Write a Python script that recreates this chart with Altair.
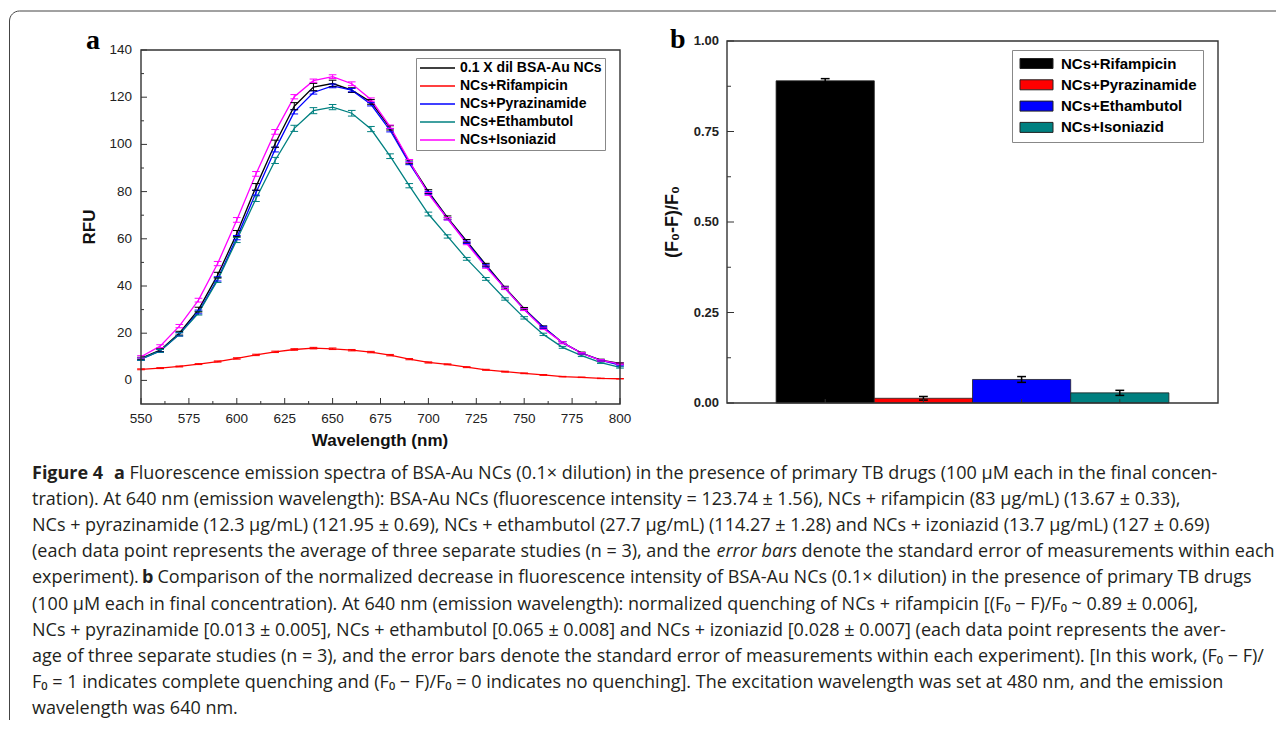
import altair as alt
import pandas as pd

# ---------------- panel a data ----------------
wavelength = [550, 560, 570, 580, 590, 600, 610, 620, 630, 640, 650, 660, 670,
              680, 690, 700, 710, 720, 730, 740, 750, 760, 770, 780, 790, 800]
series_a = ["0.1 X dil BSA-Au NCs", "NCs+Rifampicin", "NCs+Pyrazinamide",
            "NCs+Ethambutol", "NCs+Isoniazid"]
colors_a = ["#000000", "#ff0000", "#0000ff", "#008080", "#ff00ff"]

rfu_bsa = [9.3, 12.8, 20.0, 30.0, 44.6, 62.2, 82.0, 100.3, 116.2, 124.3, 125.8, 123.0,
           118.0, 107.0, 92.6, 80.0, 69.0, 59.0, 49.0, 39.3, 30.4, 22.6, 16.0, 11.6, 8.6, 7.2]
rfu_rif = [4.7, 5.2, 5.9, 6.9, 8.0, 9.3, 10.8, 12.1, 13.1, 13.67, 13.4, 12.8, 12.0,
           10.7, 9.0, 7.6, 6.8, 5.6, 4.5, 3.7, 3.0, 2.3, 1.6, 1.3, 0.85, 0.7]
rfu_pyr = [9.0, 12.5, 19.5, 29.0, 43.0, 60.5, 79.5, 97.8, 113.8, 122.0, 124.8, 123.0,
           117.0, 106.0, 92.0, 79.5, 68.5, 58.5, 48.5, 39.0, 30.0, 22.5, 16.0, 11.5, 8.5, 6.5]
rfu_eth = [9.0, 12.5, 19.5, 28.5, 42.5, 59.5, 77.0, 93.2, 106.8, 114.3, 115.8, 113.2,
           106.5, 95.0, 82.5, 70.5, 61.0, 51.5, 43.0, 34.5, 26.5, 19.5, 14.0, 10.5, 7.5, 5.5]
rfu_iso = [10.0, 14.5, 23.0, 34.0, 49.5, 68.0, 87.5, 105.3, 120.2, 127.0, 128.7, 125.7,
           119.0, 107.5, 93.0, 79.0, 68.5, 58.0, 48.0, 39.0, 30.0, 22.0, 16.0, 11.5, 8.5, 7.0]

err_bsa = [0.5, 0.6, 0.8, 1.0, 1.2, 1.3, 1.4, 1.5, 1.5, 1.56, 1.4, 1.0, 1.0, 0.9, 0.8, 0.8,
           0.7, 0.7, 0.6, 0.6, 0.5, 0.5, 0.4, 0.4, 0.4, 0.3]
err_rif = [0.2, 0.2, 0.2, 0.2, 0.25, 0.3, 0.3, 0.3, 0.33, 0.33, 0.33, 0.3, 0.3, 0.3, 0.25,
           0.25, 0.2, 0.2, 0.2, 0.2, 0.15, 0.15, 0.1, 0.1, 0.1, 0.1]
err_pyr = [0.5, 0.6, 0.7, 0.8, 0.9, 0.9, 1.0, 1.0, 0.9, 0.69, 0.8, 0.7, 0.7, 0.7, 0.6, 0.6,
           0.5, 0.5, 0.5, 0.5, 0.4, 0.4, 0.4, 0.3, 0.3, 0.3]
err_eth = [0.5, 0.6, 0.7, 0.8, 1.0, 1.1, 1.2, 1.3, 1.3, 1.28, 1.1, 1.2, 1.1, 1.0, 0.9, 0.8,
           0.7, 0.6, 0.6, 0.5, 0.5, 0.5, 0.4, 0.4, 0.3, 0.3]
err_iso = [0.5, 0.6, 0.7, 0.8, 0.9, 1.0, 1.0, 1.0, 0.9, 0.69, 0.8, 0.8, 0.7, 0.7, 0.6, 0.6,
           0.5, 0.5, 0.5, 0.5, 0.4, 0.4, 0.4, 0.3, 0.3, 0.3]

xa_major = [550, 575, 600, 625, 650, 675, 700, 725, 750, 775, 800]
xa_minor = [562.5, 587.5, 612.5, 637.5, 662.5, 687.5, 712.5, 737.5, 762.5, 787.5]
ya_domain = [-10, 140]
ya_major = [0, 20, 40, 60, 80, 100, 120, 140]
ya_minor = [10, 30, 50, 70, 90, 110, 130]
title_xa = "Wavelength (nm)"
title_ya = "RFU"

# ---------------- panel b data ----------------
drugs_b = ["NCs+Rifampicin", "NCs+Pyrazinamide", "NCs+Ethambutol", "NCs+Isoniazid"]
colors_b = ["#000000", "#ff0000", "#0000ff", "#008080"]
quench_b = [0.89, 0.013, 0.065, 0.028]
quench_err_b = [0.006, 0.005, 0.008, 0.007]
bar_pos_b = [1, 2, 3, 4]
xb_domain = [0, 5]
yb_major = [0, 0.25, 0.5, 0.75, 1.0]
yb_minor = [0.125, 0.375, 0.625, 0.875]
title_yb = "(F\u2080-F)/F\u2080"

# ---------------- caption ----------------
caption_lines = [
    [("Figure 4", "bold", "normal"), ("a", "bold", "normal"),
     ("Fluorescence emission spectra of BSA-Au NCs (0.1\u00d7 dilution) in the presence of primary TB drugs (100 \u00b5M each in the final concen-", "normal", "normal")],
    [("tration). At 640 nm (emission wavelength): BSA-Au NCs (fluorescence intensity = 123.74 \u00b1 1.56), NCs + rifampicin (83 \u00b5g/mL) (13.67 \u00b1 0.33),", "normal", "normal")],
    [("NCs + pyrazinamide (12.3 \u00b5g/mL) (121.95 \u00b1 0.69), NCs + ethambutol (27.7 \u00b5g/mL) (114.27 \u00b1 1.28) and NCs + izoniazid (13.7 \u00b5g/mL) (127 \u00b1 0.69)", "normal", "normal")],
    [("(each data point represents the average of three separate studies (n = 3), and the", "normal", "normal"),
     ("error bars", "normal", "italic"),
     ("denote the standard error of measurements within each", "normal", "normal")],
    [("experiment).", "normal", "normal"), ("b", "bold", "normal"),
     ("Comparison of the normalized decrease in fluorescence intensity of BSA-Au NCs (0.1\u00d7 dilution) in the presence of primary TB drugs", "normal", "normal")],
    [("(100 \u00b5M each in final concentration). At 640 nm (emission wavelength): normalized quenching of NCs + rifampicin [(F\u2080 \u2212 F)/F\u2080 ~ 0.89 \u00b1 0.006],", "normal", "normal")],
    [("NCs + pyrazinamide [0.013 \u00b1 0.005], NCs + ethambutol [0.065 \u00b1 0.008] and NCs + izoniazid [0.028 \u00b1 0.007] (each data point represents the aver-", "normal", "normal")],
    [("age of three separate studies (n = 3), and the error bars denote the standard error of measurements within each experiment). [In this work, (F\u2080 \u2212 F)/", "normal", "normal")],
    [("F\u2080 = 1 indicates complete quenching and (F\u2080 \u2212 F)/F\u2080 = 0 indicates no quenching]. The excitation wavelength was set at 480 nm, and the emission", "normal", "normal")],
    [("wavelength was 640 nm.", "normal", "normal")],
]
# left x (page px) of each segment
caption_seg_x = [[32, 114, 129.5], [32], [32], [32, 716.5, 801.5], [32, 142, 157.5],
                 [32], [32], [32], [32], [32]]

# ---------------- layout constants (chart px; page = chart + 8) ----------------
M = 8
XA_RANGE = [141 - M, 620 - M]
YA_RANGE = [404 - M, 50 - M]
XB_RANGE = [727 - M, 1218 - M]
YB_RANGE = [403 - M, 41 - M]
W, H = 1268, 712

AX_FONT = "Liberation Sans"
CAP_FONT = "Open Sans"
CAP_SIZE = 18.0
CAP_Y0, CAP_DY = 479, 26.1
one = pd.DataFrame({"k": [0]})

xa = alt.Scale(domain=[xa_major[0], xa_major[-1]], range=XA_RANGE, nice=False, zero=False)
ya = alt.Scale(domain=ya_domain, range=YA_RANGE, nice=False, zero=False)
xb = alt.Scale(domain=xb_domain, range=XB_RANGE, nice=False, zero=False)
yb = alt.Scale(domain=[yb_major[0], yb_major[-1]], range=YB_RANGE, nice=False, zero=False)

px_x_a = (xa_major[-1] - xa_major[0]) / (XA_RANGE[1] - XA_RANGE[0])
px_y_a = (ya_domain[1] - ya_domain[0]) / (YA_RANGE[0] - YA_RANGE[1])
px_x_b = (xb_domain[1] - xb_domain[0]) / (XB_RANGE[1] - XB_RANGE[0])
px_y_b = (yb_major[-1] - yb_major[0]) / (YB_RANGE[0] - YB_RANGE[1])


def yticks(values, x0, length, xs, ys):
    return alt.Chart(pd.DataFrame({"t": values})).mark_rule(color="#333333", strokeWidth=1).encode(
        x=alt.X(datum=x0, type="quantitative", scale=xs, axis=None),
        x2=alt.X2(datum=x0 + length),
        y=alt.Y("t:Q", scale=ys, axis=None))


def xticks(values, y0, length, xs, ys):
    return alt.Chart(pd.DataFrame({"t": values})).mark_rule(color="#333333", strokeWidth=1).encode(
        x=alt.X("t:Q", scale=xs, axis=None),
        y=alt.Y(datum=y0, type="quantitative", scale=ys, axis=None),
        y2=alt.Y2(datum=y0 + length))


def xlabels(values, y0, xs, ys, fmt, dy, weight="normal", size=13.5):
    return alt.Chart(pd.DataFrame({"t": values})).mark_text(
        align="center", baseline="top", dy=dy, font=AX_FONT, fontSize=size,
        fontWeight=weight, color="#222222").encode(
        x=alt.X("t:Q", scale=xs, axis=None),
        y=alt.Y(datum=y0, type="quantitative", scale=ys, axis=None),
        text=alt.Text("t:Q", format=fmt))


def ylabels(values, x0, xs, ys, fmt, dx, weight="normal", size=13.5):
    return alt.Chart(pd.DataFrame({"t": values})).mark_text(
        align="right", baseline="middle", dx=dx, font=AX_FONT, fontSize=size,
        fontWeight=weight, color="#222222").encode(
        x=alt.X(datum=x0, type="quantitative", scale=xs, axis=None),
        y=alt.Y("t:Q", scale=ys, axis=None),
        text=alt.Text("t:Q", format=fmt))


def frame(x0, x1, y0, y1, xs, ys):
    return alt.Chart(one).mark_rect(fill="transparent", stroke="#333333", strokeWidth=1.4).encode(
        x=alt.X(datum=x0, type="quantitative", scale=xs, axis=None), x2=alt.X2(datum=x1),
        y=alt.Y(datum=y0, type="quantitative", scale=ys, axis=None), y2=alt.Y2(datum=y1))


# ---------------- panel a ----------------
rows = []
for name, vals, errs in zip(series_a, [rfu_bsa, rfu_rif, rfu_pyr, rfu_eth, rfu_iso],
                            [err_bsa, err_rif, err_pyr, err_eth, err_iso]):
    for w_, v, e in zip(wavelength, vals, errs):
        rows.append({"wl": w_, "rfu": v, "err": e, "series": name})
df_a = pd.DataFrame(rows)

color_a_scale = alt.Scale(domain=series_a, range=colors_a)
legend_a = alt.Legend(orient="none", legendX=408, legendY=50, direction="vertical", title=None,
                      symbolType="M-1.2,0H5.8", symbolSize=100, symbolStrokeWidth=1.5,
                      labelFont=AX_FONT, labelFontWeight="bold", labelFontSize=14,
                      labelColor="#000000", labelOffset=27, labelLimit=400, rowPadding=4,
                      padding=3, strokeColor="#888888", fillColor="#ffffff")

base_a = alt.Chart(df_a)
lines_a = base_a.mark_line(strokeWidth=1.3).encode(
    x=alt.X("wl:Q", scale=xa, axis=None),
    y=alt.Y("rfu:Q", scale=ya, axis=None),
    color=alt.Color("series:N", scale=color_a_scale, legend=legend_a, sort=series_a),
)
err_base = base_a.transform_calculate(lo="datum.rfu - datum.err", hi="datum.rfu + datum.err",
                                      cl="datum.wl - 2", cr="datum.wl + 2")
err_a = err_base.mark_rule(strokeWidth=1).encode(
    x=alt.X("wl:Q", scale=xa, axis=None), y=alt.Y("lo:Q", scale=ya, axis=None), y2="hi:Q",
    color=alt.Color("series:N", scale=color_a_scale, legend=None))
cap_hi_a = err_base.mark_rule(strokeWidth=1).encode(
    x=alt.X("cl:Q", scale=xa, axis=None), x2="cr:Q", y=alt.Y("hi:Q", scale=ya, axis=None),
    color=alt.Color("series:N", scale=color_a_scale, legend=None))
cap_lo_a = err_base.mark_rule(strokeWidth=1).encode(
    x=alt.X("cl:Q", scale=xa, axis=None), x2="cr:Q", y=alt.Y("lo:Q", scale=ya, axis=None),
    color=alt.Color("series:N", scale=color_a_scale, legend=None))

guides_a = [
    yticks(ya_major, xa_major[0], 6 * px_x_a, xa, ya),
    yticks(ya_minor, xa_major[0], 3 * px_x_a, xa, ya),
    xticks(xa_major, ya_domain[0], 6 * px_y_a, xa, ya),
    xticks(xa_minor, ya_domain[0], 3 * px_y_a, xa, ya),
    xlabels(xa_major, ya_domain[0], xa, ya, "d", 8),
    ylabels(ya_major, xa_major[0], xa, ya, "d", -9),
]
panel_a = alt.layer(lines_a, err_a, cap_hi_a, cap_lo_a, *guides_a,
                    frame(xa_major[0], xa_major[-1], ya_domain[0], ya_domain[1], xa, ya))

# ---------------- panel b ----------------
df_b = pd.DataFrame({"drug": drugs_b, "q": quench_b, "qe": quench_err_b, "pos": bar_pos_b})
color_b_scale = alt.Scale(domain=drugs_b, range=colors_b)
legend_b = alt.Legend(orient="none", legendX=1004, legendY=42, direction="vertical", title=None,
                      symbolType="M-1.1,-1H5.5V1H-1.1Z", symbolSize=100, symbolStrokeWidth=1,
                      symbolStrokeColor="#222222", labelFont=AX_FONT, labelFontWeight="bold",
                      labelFontSize=15, labelColor="#000000", labelOffset=28, labelLimit=400,
                      rowPadding=5.3, padding=6, strokeColor="#888888", fillColor="#ffffff")
base_b = alt.Chart(df_b).transform_calculate(xl="datum.pos - 0.5", xr="datum.pos + 0.5",
                                             lo="datum.q - datum.qe", hi="datum.q + datum.qe",
                                             cl="datum.pos - 0.045", cr="datum.pos + 0.045")
bars_b = base_b.mark_rect(stroke="#222222", strokeWidth=0.8).encode(
    x=alt.X("xl:Q", scale=xb, axis=None), x2="xr:Q",
    y=alt.Y("q:Q", scale=yb, axis=None), y2=alt.Y2(datum=0),
    color=alt.Color("drug:N", scale=color_b_scale, legend=legend_b, sort=drugs_b))
err_b = base_b.mark_rule(color="#000000", strokeWidth=1.5).encode(
    x=alt.X("pos:Q", scale=xb, axis=None), y=alt.Y("lo:Q", scale=yb, axis=None), y2="hi:Q")
cap_hi_b = base_b.mark_rule(color="#000000", strokeWidth=1.5).encode(
    x=alt.X("cl:Q", scale=xb, axis=None), x2="cr:Q", y=alt.Y("hi:Q", scale=yb, axis=None))
cap_lo_b = base_b.mark_rule(color="#000000", strokeWidth=1.5).encode(
    x=alt.X("cl:Q", scale=xb, axis=None), x2="cr:Q", y=alt.Y("lo:Q", scale=yb, axis=None))
guides_b = [
    yticks(yb_major, xb_domain[0], 7 * px_x_b, xb, yb),
    yticks(yb_minor, xb_domain[0], 4 * px_x_b, xb, yb),
    xticks(bar_pos_b, yb_major[0], 4 * px_y_b, xb, yb),
    ylabels(yb_major, xb_domain[0], xb, yb, ".2f", -8, weight="bold", size=13),
]
panel_b = alt.layer(bars_b, err_b, cap_hi_b, cap_lo_b, *guides_b,
                    frame(xb_domain[0], xb_domain[1], yb_major[0], yb_major[-1], xb, yb))

# ---------------- annotations (border, titles, panel letters, caption) ----------------
border = alt.Chart(one).mark_rect(fill="transparent", stroke="#444444", strokeWidth=1,
                                  cornerRadius=10).encode(
    x=alt.value(9.5 - M), x2=alt.value(W + 40), y=alt.value(11 - M), y2=alt.value(H + 40))


def label(txt, x, y, font, size, weight="normal", style="normal", color="#1a1a1a",
          align="left", baseline="alphabetic", angle=0):
    return alt.Chart(one).mark_text(align=align, baseline=baseline, font=font,
                                    fontSize=size, fontWeight=weight, fontStyle=style,
                                    color=color, angle=angle).encode(
        x=alt.value(x - M), y=alt.value(y - M), text=alt.value(txt))


annots = [border,
          label(title_xa, 380, 441, AX_FONT, 17, "bold", color="#111111",
                align="center", baseline="middle"),
          label(title_ya, 90, 227, AX_FONT, 17, "bold", color="#111111",
                align="center", baseline="middle", angle=270),
          label(title_yb, 673, 222, AX_FONT, 18, "bold", color="#111111",
                align="center", baseline="middle", angle=270),
          label("a", 86, 49, "Liberation Serif", 28, "bold", color="#000000"),
          label("b", 670, 48, "Liberation Serif", 28, "bold", color="#000000")]
for i, (segs, xs_) in enumerate(zip(caption_lines, caption_seg_x)):
    yb_ = CAP_Y0 + CAP_DY * i
    for (txt, wt, st), x_ in zip(segs, xs_):
        annots.append(label(txt, x_, yb_, CAP_FONT, CAP_SIZE, wt, st, color="#231f20"))
annot = alt.layer(*annots)

chart = alt.layer(panel_a, panel_b, annot).resolve_scale(
    x="independent", y="independent", color="independent"
).properties(
    width=W, height=H, padding=0, background="#ffffff",
    autosize=alt.AutoSizeParams(type="none"),
).configure_view(stroke=None)

chart.save("out.html", embed_options={"renderer": "svg", "actions": False})
